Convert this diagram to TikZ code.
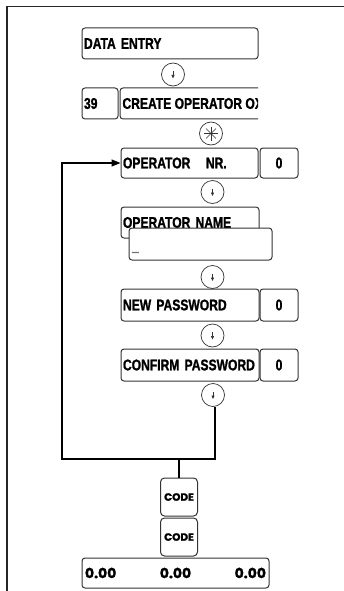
\documentclass[tikz,border=0pt]{standalone}
\usepackage{fontspec}
\usepackage{tikz}
\usetikzlibrary{arrows.meta}
\newfontfamily\lcdfont{Liberation Sans}[FakeStretch=0.78,FakeBold=1.2]
\newfontfamily\keyfont{Poppins}[FakeBold=1.5]

\begin{document}
\begin{tikzpicture}[
  x=1pt,y=-1pt,
  screen/.style={draw=black!80,line width=1pt,rounded corners=3pt,fill=white,
    inner xsep=2pt,inner ysep=0pt,minimum height=31pt,align=left,
    font=\lcdfont\bfseries\fontsize{15.5}{15.5}\selectfont},
  valbox/.style={screen,align=center,minimum width=38pt},
  keybox/.style={draw=black!80,line width=1pt,rounded corners=4pt,
    minimum width=37pt,minimum height=38pt,inner sep=0pt,
    font=\keyfont\bfseries\fontsize{10.5}{10.5}\selectfont},
  keycirc/.style={circle,draw=black!80,line width=0.7pt,minimum size=23pt,inner sep=0pt},
  downkey/.style={keycirc,path picture={
    \draw[line width=0.7pt,-{Triangle[length=3.5pt,width=3pt]}]
      ([yshift=3.5pt]path picture bounding box.center) --
      ([yshift=-4pt]path picture bounding box.center);}},
  starkey/.style={keycirc,path picture={
    \foreach \a in {0,45,90,135}
      \draw[line width=0.6pt] ([shift={(\a:7pt)}]path picture bounding box.center) --
        ([shift={(\a+180:7pt)}]path picture bounding box.center);}},
  >={Triangle[length=9pt,width=7pt]}
]
  \useasboundingbox (0,0) rectangle (344,591);

  % Frame
  \draw[line width=1.3pt,black!85] (7,591) -- (7,6.5) -- (344,6.5);

  % Menu screens
  \node[screen,text width=172pt] (dataentry) at (170,43.5) {DATA ENTRY};
  \node[downkey] (k1) at (173,74.5) {};
  \node[screen,text width=32pt] (menunr) at (100,103.5) {39};
  \begin{scope}
    \clip (120,85) rectangle (258,122);
    \node[screen,draw=none,fill=none,anchor=west] (createop) at (120,103.5) {CREATE OPERATOR OX};
  \end{scope}
  \draw[black!80,line width=1pt,rounded corners=3pt]
    (258,88) -- (120,88) -- (120,119) -- (258,119);
  \node[starkey] (k2) at (211,133.5) {};

  % Operator data
  \node[screen,text width=133pt,minimum height=30pt] (opnr) at (189.5,163) {OPERATOR\ \ \ NR.};
  \node[valbox,minimum height=30pt] (opnrval) at (279,163) {0};
  \node[downkey] (k3) at (212.5,192) {};
  \node[screen,text width=134pt] (opname) at (190,222.5) {OPERATOR NAME};
  \node[screen,text width=139pt,minimum height=32pt] (namefield) at (200.5,244) {};
  \node[font=\lcdfont\fontsize{15}{15}\selectfont,text=black!55,inner sep=0pt,anchor=base west]
    (cursor) at (132,250) {\_};
  \node[downkey] (k4) at (212.5,277) {};
  \node[screen,text width=134pt,minimum height=32pt] (newpw) at (190,305) {NEW PASSWORD};
  \node[valbox,minimum height=32pt] (newpwval) at (279,305) {0};
  \node[downkey] (k5) at (212.5,335.5) {};
  \node[screen,text width=134pt,minimum height=32pt] (confpw) at (190,365) {CONFIRM PASSWORD};
  \node[valbox,minimum height=32pt] (confpwval) at (279,365) {0};
  \node[downkey] (k6) at (213,395) {};

  % Keys and totals
  \node[keybox] (code1) at (179,497) {CODE};
  \node[keybox] (code2) at (179,537) {CODE};
  \node[screen,minimum width=187pt,minimum height=30pt,
    font=\keyfont\bfseries\fontsize{14}{14}\selectfont] (totals) at (175.5,573)
    {\makebox[181pt][l]{0.00\hfill 0.00\hfill 0.00}};

  % Loop
  \coordinate (loopcorner) at (62,459);
  \draw[line width=1.2pt,->] ([xshift=2pt]k6.south) |- (loopcorner) |- (opnr.west);
  \draw[line width=1.2pt] (code1.north) -- (code1.north |- loopcorner);
\end{tikzpicture}
\end{document}
